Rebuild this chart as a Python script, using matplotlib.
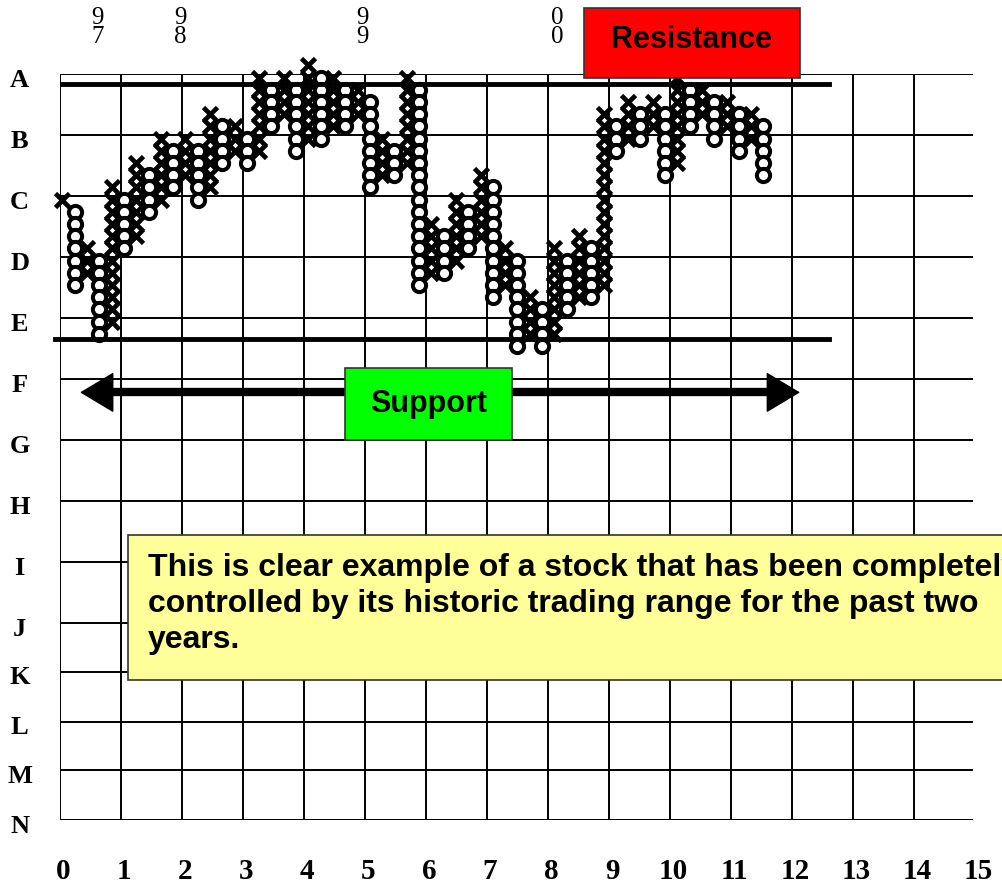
import numpy as np
import matplotlib.pyplot as plt
from matplotlib.patches import Rectangle

# grid rows (letters) and their line positions in grid units from the top
row_labels = list("ABCDEFGHIJKLMN")
row_lines = [0, 1, 2, 3, 4, 5, 6, 7, 8, 9, 9.8, 10.62, 11.41, 12.23]
x_ticks = list(range(16))

year_labels = ["9\n7", "9\n8", "9\n9", "0\n0"]
year_x = [0.61, 1.97, 4.95, 8.15]

# point & figure columns: box index counted down from the top line
# columns alternate X, O, X, O ... starting with X
col_top = [10, 11, 14, 15, 9, 10, 7, 8, 5, 6, 5, 6, 3, 4, 4, 5, 0, 1, 0, 1,
           -1, 0, 0, 1, 1, 2, 5, 6, 0, 1, 12, 13, 10, 11, 8, 9, 14, 15, 18, 19,
           14, 15, 13, 14, 3, 4, 2, 3, 2, 3, 0, 1, 1, 2, 2, 3, 3, 4]
col_bottom = [10, 17, 16, 21, 20, 14, 13, 11, 10, 9, 8, 10, 9, 7, 6, 7, 6, 4, 3, 6,
              5, 5, 4, 4, 3, 9, 8, 8, 7, 17, 16, 16, 15, 14, 13, 18, 17, 22, 21, 22,
              21, 19, 18, 18, 17, 6, 5, 5, 4, 8, 7, 4, 3, 5, 4, 6, 5, 8]

resistance_y = 0.16
support_y = 4.34

fig = plt.figure(figsize=(10.03, 8.91), dpi=100)
ax = fig.add_axes([60 / 1003, 1 - 820 / 891, 915 / 1003, (820 - 74) / 891])
ax.set_xlim(0, 15)
ax.set_ylim(row_lines[-1], 0)
ax.axis("off")

serif = "Liberation Serif"
sans = "Liberation Sans"

# grid
for y in row_lines:
    ax.plot([0, 14.95], [y, y], color="black", lw=1.4, zorder=1)
for x in range(15):
    ax.plot([x, x], [0, row_lines[-1]], color="black", lw=1.4, zorder=1)

for lab, y in zip(row_labels, row_lines):
    ax.text(-0.66, y + 0.1, lab, ha="center", va="center", fontsize=19,
            fontweight="bold", family=serif, clip_on=False)
for t in x_ticks:
    ax.text(t + 0.05, 13.08, str(t), ha="center", va="center", fontsize=21,
            fontweight="bold", family=serif, clip_on=False)
for lab, x in zip(year_labels, year_x):
    ax.text(x, -0.77, lab, ha="center", va="center", fontsize=18,
            family=serif, linespacing=0.82, clip_on=False)

# X / O columns
for i, (top, bot) in enumerate(zip(col_top, col_bottom)):
    ks = np.arange(top, bot + 1)
    xs = np.full(len(ks), 0.04 + 0.2016 * i)
    ys = 0.2 * (ks + 0.3)
    if i % 2 == 0:
        ax.plot(xs, ys, "x", color="black", ms=10, mew=3.4, zorder=3, clip_on=False)
    else:
        ax.plot(xs, ys, "o", mfc="white", mec="black", ms=9.5, mew=2.9, zorder=3,
                clip_on=False)

# resistance / support lines
ax.plot([0.03, 12.6], [resistance_y, resistance_y], color="black", lw=3.5, zorder=4,
        clip_on=False)
ax.plot([-0.08, 12.6], [support_y, support_y], color="black", lw=3.5, zorder=4,
        clip_on=False)

# resistance box
ax.add_patch(Rectangle((8.59, -1.08), 3.54, 1.15, facecolor="#ff0000",
                       edgecolor="#333333", lw=1.2, zorder=5, clip_on=False))
ax.text(10.36, -0.55, "Resistance", ha="center", va="center", fontsize=22,
        fontweight="bold", family=sans, zorder=6, clip_on=False)

# support arrow and box
ax.plot([0.8, 11.6], [5.22, 5.22], color="black", lw=6, zorder=5,
        solid_capstyle="butt")
ax.annotate("", xy=(0.33, 5.22), xytext=(12.13, 5.22),
            arrowprops=dict(arrowstyle="<|-|>,head_length=0.75,head_width=0.45",
                            color="black", lw=1, mutation_scale=30,
                            shrinkA=0, shrinkB=0), zorder=5)
ax.add_patch(Rectangle((4.67, 4.82), 2.74, 1.18, facecolor="#00ff00",
                       edgecolor="#333333", lw=1.2, zorder=6, clip_on=False))
ax.text(6.04, 5.41, "Support", ha="center", va="center", fontsize=22,
        fontweight="bold", family=sans, zorder=7, clip_on=False)

# note box
ax.add_patch(Rectangle((1.12, 7.56), 15.0, 2.37, facecolor="#ffff99",
                       edgecolor="#333333", lw=1.2, zorder=6, clip_on=False))
ax.text(1.44, 7.85, "This is clear example of a stock that has been completely\n"
        "controlled by its historic trading range for the past two\nyears.",
        ha="left", va="top", fontsize=23, fontweight="bold", family=sans,
        linespacing=1.27, zorder=7, clip_on=False)

fig.savefig("out.png", dpi=100)
